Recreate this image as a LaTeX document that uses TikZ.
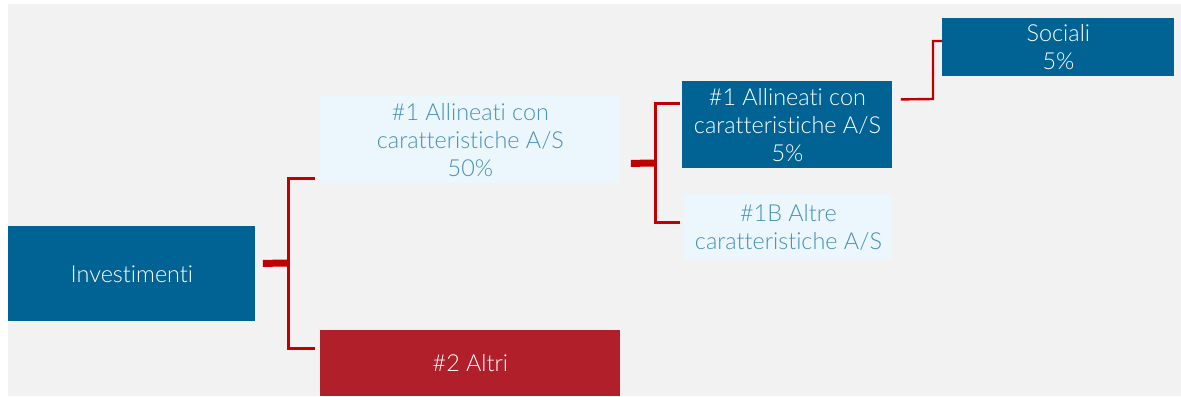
\documentclass[tikz,border=0pt]{standalone}
\usepackage{fontspec}
\setmainfont{Lato}[UprightFont=* Light, Ligatures={NoCommon}]
\usepackage{tikz}

\definecolor{bgGray}{RGB}{242,242,242}
\definecolor{darkBlue}{RGB}{0,99,148}
\definecolor{paleBlue}{RGB}{235,247,252}
\definecolor{paleText}{RGB}{72,143,185}
\definecolor{lineRed}{RGB}{192,0,0}
\definecolor{altRed}{RGB}{176,31,42}

\begin{document}
\begin{tikzpicture}[x=0.5pt,y=-0.5pt,
    box/.style={anchor=north west, inner sep=0pt, align=center,
      font=\fontsize{11.7}{14}\selectfont},
    dark/.style={box, fill=darkBlue, text=white},
    pale/.style={box, fill=paleBlue, text=paleText},
    other/.style={box, fill=altRed, text=white},
    stub/.style={lineRed, line width=3.5pt},
    branch/.style={lineRed, line width=1.5pt},
    thinlink/.style={lineRed, line width=1.2pt}]

  % Background
  \useasboundingbox (0,0) rectangle (1181,396);
  \fill[bgGray] (8,4) rectangle (1181,396);

  % Define nodes
  \node[dark, minimum width=123.5pt, minimum height=47.5pt] (inv) at (8,226) {Investimenti};
  \node[pale, minimum width=150pt, minimum height=43.5pt] (a1) at (320,96)
    {\#1 Allineati con\\caratteristiche A/S\\50\%};
  \node[other, minimum width=150pt, minimum height=33pt] (alt) at (320,330) {\#2 Altri};
  \node[dark, minimum width=105pt, minimum height=43.5pt] (b1) at (682,81)
    {\#1 Allineati con\\caratteristiche A/S\\5\%};
  \node[pale, minimum width=104pt, minimum height=33pt] (b2) at (684,194)
    {\#1B Altre\\caratteristiche A/S};
  \node[dark, minimum width=116pt, minimum height=29pt] (soc) at (942,18)
    {Sociali\\5\%};

  % Connect the nodes
  \coordinate (j1) at (288,263);
  \draw[stub] ([shift={(7,-10.5)}]inv.east) -- (j1);
  \draw[branch] ([shift={(-5,-5)}]a1.south west) -| (j1)
    |- ([shift={(-5,18)}]alt.north west);

  \coordinate (j2) at (655,163);
  \draw[stub] ([shift={(10,23.5)}]a1.east) -- (j2);
  \draw[branch] ([shift={(-2,22)}]b1.north west) -| (j2)
    |- ([shift={(-4,28)}]b2.north west);

  \coordinate (j3) at (933,99);
  \draw[thinlink] ([shift={(8,-25.5)}]b1.east) -- (j3)
    |- ([shift={(0,23)}]soc.north west);
\end{tikzpicture}
\end{document}
